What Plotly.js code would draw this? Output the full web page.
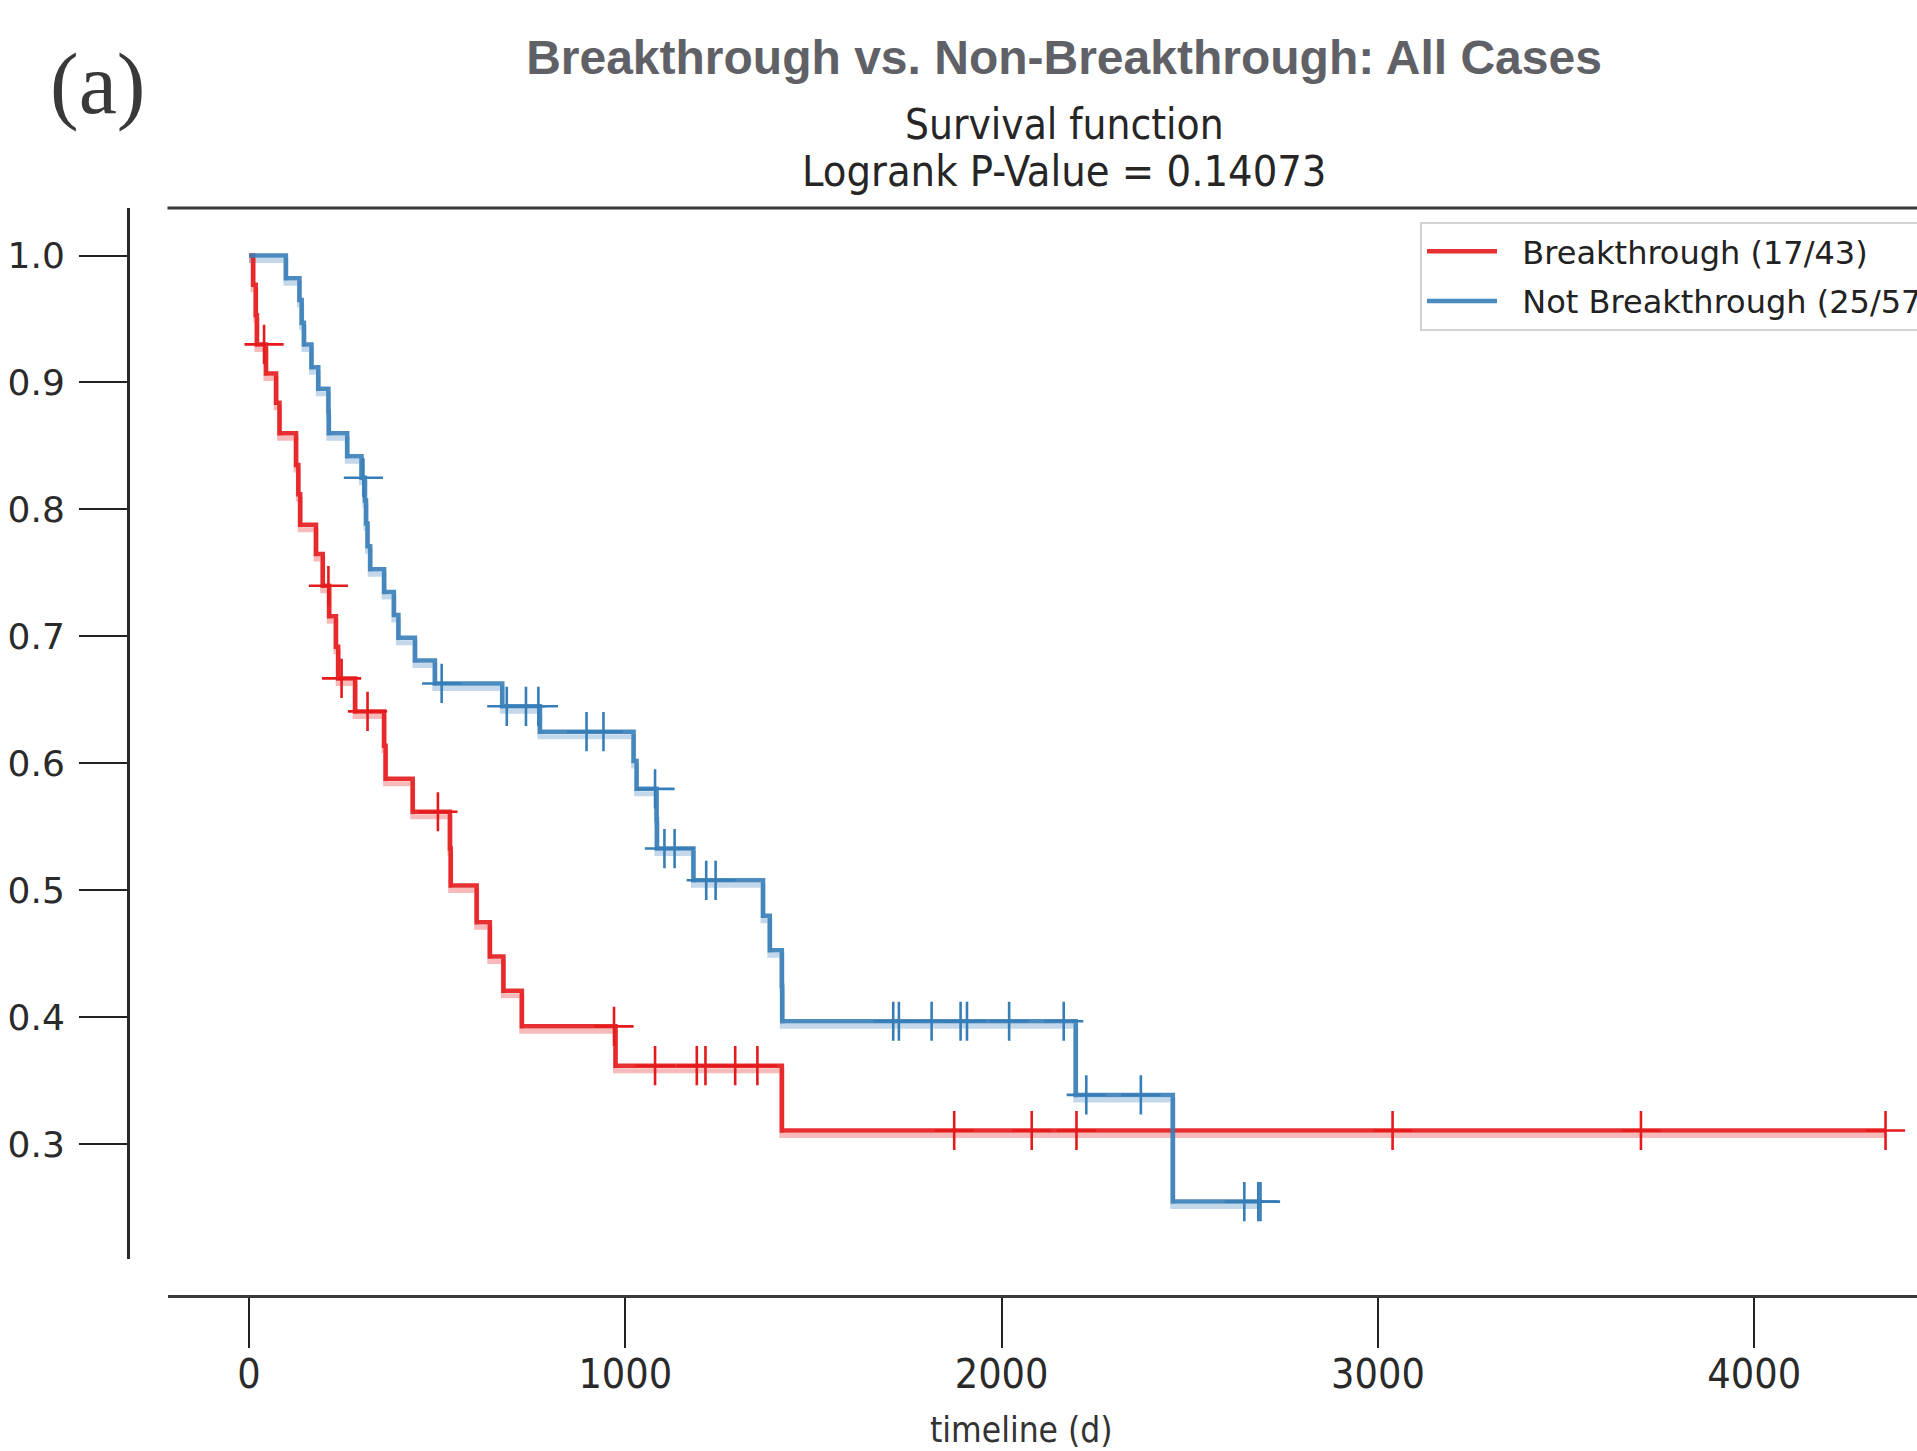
<!DOCTYPE html>
<html>
<head>
<meta charset="utf-8">
<script src="https://cdn.plot.ly/plotly-3.0.1.min.js"></script>
<style>
  html, body { margin: 0; padding: 0; background: #ffffff; overflow: hidden; }
  #chart { width: 1917px; height: 1451px; }
</style>
</head>
<body>
<div id="chart"></div>
<script>
// ---- Data (timeline in days, survival probability) ----
const seriesNames = ['Breakthrough (17/43)', 'Not Breakthrough (25/57)'];

// Breakthrough (red) step curve: time at which each level starts, and the level
const redTimes = [0, 11, 18, 21, 45, 72, 81, 125, 131, 136, 178, 196, 213, 231, 237, 282, 359, 363, 435, 534, 536, 605, 640, 676, 725, 974, 1416, 4349];
const redSurv  = [1.0, 0.977, 0.953, 0.930, 0.907, 0.884, 0.860, 0.835, 0.812, 0.788, 0.765, 0.740, 0.716, 0.692, 0.667, 0.641, 0.614, 0.588, 0.562, 0.533, 0.504, 0.475, 0.448, 0.421, 0.393, 0.362, 0.311, 0.311];
// Breakthrough censored observations
const redCensorTimes = [40, 211, 246, 315, 502, 970, 1079, 1190, 1213, 1292, 1351, 1874, 2080, 2199, 3039, 3699, 4349];
const redCensorSurv  = [0.930, 0.740, 0.667, 0.641, 0.562, 0.393, 0.362, 0.362, 0.362, 0.362, 0.362, 0.311, 0.311, 0.311, 0.311, 0.311, 0.311];

// Not Breakthrough (blue) step curve
const blueTimes = [0, 98, 134, 140, 146, 166, 184, 211, 212, 261, 299, 308, 311, 315, 322, 359, 385, 397, 441, 494, 673, 773, 1022, 1030, 1083, 1084, 1181, 1366, 1384, 1416, 1417, 2197, 2455, 2688];
const blueSurv  = [1.0, 0.982, 0.965, 0.947, 0.930, 0.912, 0.895, 0.877, 0.860, 0.842, 0.825, 0.807, 0.789, 0.771, 0.753, 0.735, 0.717, 0.699, 0.681, 0.663, 0.645, 0.625, 0.602, 0.580, 0.556, 0.533, 0.508, 0.480, 0.453, 0.425, 0.397, 0.339, 0.255, 0.255];
// Not Breakthrough censored observations
const blueCensorTimes = [304, 512, 685, 736, 769, 897, 942, 1079, 1104, 1131, 1215, 1240, 1712, 1727, 1814, 1891, 1908, 2020, 2165, 2225, 2370, 2645, 2682, 2688];
const blueCensorSurv  = [0.825, 0.663, 0.645, 0.645, 0.645, 0.625, 0.625, 0.580, 0.533, 0.533, 0.508, 0.508, 0.397, 0.397, 0.397, 0.397, 0.397, 0.397, 0.397, 0.339, 0.339, 0.255, 0.255, 0.255];

// Axis ticks
const xTickVals = [0, 1000, 2000, 3000, 4000];
const yTickVals = [0.3, 0.4, 0.5, 0.6, 0.7, 0.8, 0.9, 1.0];

// ---- Styling ----
const RED = '#e41a1c';
const BLUE = '#377eb8';
const condensed = '"DejaVu Sans Condensed", "Liberation Sans Narrow", "DejaVu Sans", sans-serif';
const dejavu = '"DejaVu Sans", sans-serif';
const legendPad = '\u00a0\u00a0';

function stepShadow(x, y, color) {
  return { x: x, y: y, xaxis: 'x', yaxis: 'y', type: 'scatter', mode: 'lines',
    line: { shape: 'hv', color: color, width: 5 }, opacity: 0.3,
    showlegend: false, hoverinfo: 'skip' };
}
function stepLine(x, y, color, name) {
  return { x: x, y: y, xaxis: 'x', yaxis: 'y2', type: 'scatter', mode: 'lines',
    line: { shape: 'hv', color: color, width: 4.5 }, opacity: 0.9,
    name: legendPad + name, legendgroup: name, hoverinfo: 'skip' };
}
function censors(x, y, color, name) {
  return { x: x, y: y, xaxis: 'x', yaxis: 'y2', type: 'scatter', mode: 'markers',
    marker: { symbol: 'cross-thin', size: 28, color: color, line: { color: color, width: 2.6 } },
    name: name, legendgroup: name, showlegend: false, hoverinfo: 'skip' };
}

const traces = [
  stepShadow(redTimes, redSurv, RED),
  stepShadow(blueTimes, blueSurv, BLUE),
  stepLine(redTimes, redSurv, RED, seriesNames[0]),
  stepLine(blueTimes, blueSurv, BLUE, seriesNames[1]),
  censors(redCensorTimes, redCensorSurv, RED, seriesNames[0]),
  censors(blueCensorTimes, blueCensorSurv, BLUE, seriesNames[1])
];

// geometry (px)
const W = 1917, H = 1451;
const mL = 128, mR = 0, mT = 208, mB = 155;
const paperW = W - mL - mR, paperH = H - mT - mB;
const xDomStart = (167.5 - mL) / paperW;
const yDomStart = (1296 - 1259) / paperH;
const yRange = [0.2098, 1.0374];
const shadowShift = 5 / 1270;

const layout = {
  width: W, height: H,
  margin: { l: mL, r: mR, t: mT, b: mB, pad: 0, autoexpand: false },
  paper_bgcolor: '#ffffff', plot_bgcolor: '#ffffff',
  title: {
    text: 'Breakthrough vs. Non-Breakthrough: All Cases',
    font: { family: '"Liberation Sans", Arial, sans-serif', size: 48, color: '#5f6166', weight: 'bold' },
    x: 1064 / W, xref: 'container', xanchor: 'center',
    y: 1 - 57 / H, yref: 'container', yanchor: 'middle'
  },
  xaxis: {
    domain: [xDomStart, 1], range: [-216.6, 4432.6], anchor: 'free', position: 0,
    showgrid: false, zeroline: false, showline: true, linecolor: '#3a3a3a', linewidth: 3,
    ticks: 'outside', ticklen: 50, tickwidth: 2, tickcolor: '#222222',
    tickvals: xTickVals, ticktext: xTickVals.map(String),
    tickfont: { family: condensed, size: 41, color: '#2a2a2a' },
    ticklabelstandoff: -9
  },
  yaxis: {
    domain: [yDomStart, 1], range: [yRange[0] + shadowShift, yRange[1] + shadowShift],
    visible: false, showgrid: false, zeroline: false, fixedrange: true
  },
  yaxis2: {
    overlaying: 'y', anchor: 'free', position: 0, side: 'left',
    range: yRange, showgrid: false, zeroline: false,
    showline: true, linecolor: '#2a2a2a', linewidth: 2.5,
    ticks: 'outside', ticklen: 48, tickwidth: 2, tickcolor: '#222222',
    tickvals: yTickVals, tickformat: '.1f',
    tickfont: { family: dejavu, size: 36, color: '#2a2a2a' },
    ticklabelstandoff: 7
  },
  showlegend: true,
  legend: {
    x: (1420 - mL) / paperW, y: (1296 - 222) / paperH, xanchor: 'left', yanchor: 'top',
    bgcolor: '#ffffff', bordercolor: '#d2d2d2', borderwidth: 2,
    font: { family: dejavu, size: 32, color: '#222222' },
    itemwidth: 70, tracegroupgap: 5
  },
  shapes: [
    { type: 'line', xref: 'paper', yref: 'paper', x0: xDomStart, x1: 1.02, y0: 1, y1: 1,
      line: { color: '#3a3a3a', width: 3 } }
  ],
  annotations: [
    { text: '(a)', xref: 'paper', yref: 'paper', x: (97 - mL) / paperW, y: (1296 - 84) / paperH,
      xanchor: 'center', yanchor: 'middle', showarrow: false,
      font: { family: '"Liberation Serif", "Times New Roman", serif', size: 86, color: '#3a3838' } },
    { text: 'Survival function', xref: 'paper', yref: 'paper', x: (1064 - mL) / paperW, y: (1296 - 124) / paperH,
      xanchor: 'center', yanchor: 'middle', showarrow: false,
      font: { family: condensed, size: 42, color: '#262626' } },
    { text: 'Logrank P-Value = 0.14073', xref: 'paper', yref: 'paper', x: (1064 - mL) / paperW, y: (1296 - 171) / paperH,
      xanchor: 'center', yanchor: 'middle', showarrow: false,
      font: { family: condensed, size: 43, color: '#262626' } },
    { text: 'timeline (d)', xref: 'paper', yref: 'paper', x: (1021 - mL) / paperW, y: (1296 - 1430) / paperH,
      xanchor: 'center', yanchor: 'middle', showarrow: false,
      font: { family: condensed, size: 35, color: '#333333' } }
  ]
};

Plotly.newPlot('chart', traces, layout, { staticPlot: true, displayModeBar: false });
</script>
</body>
</html>
